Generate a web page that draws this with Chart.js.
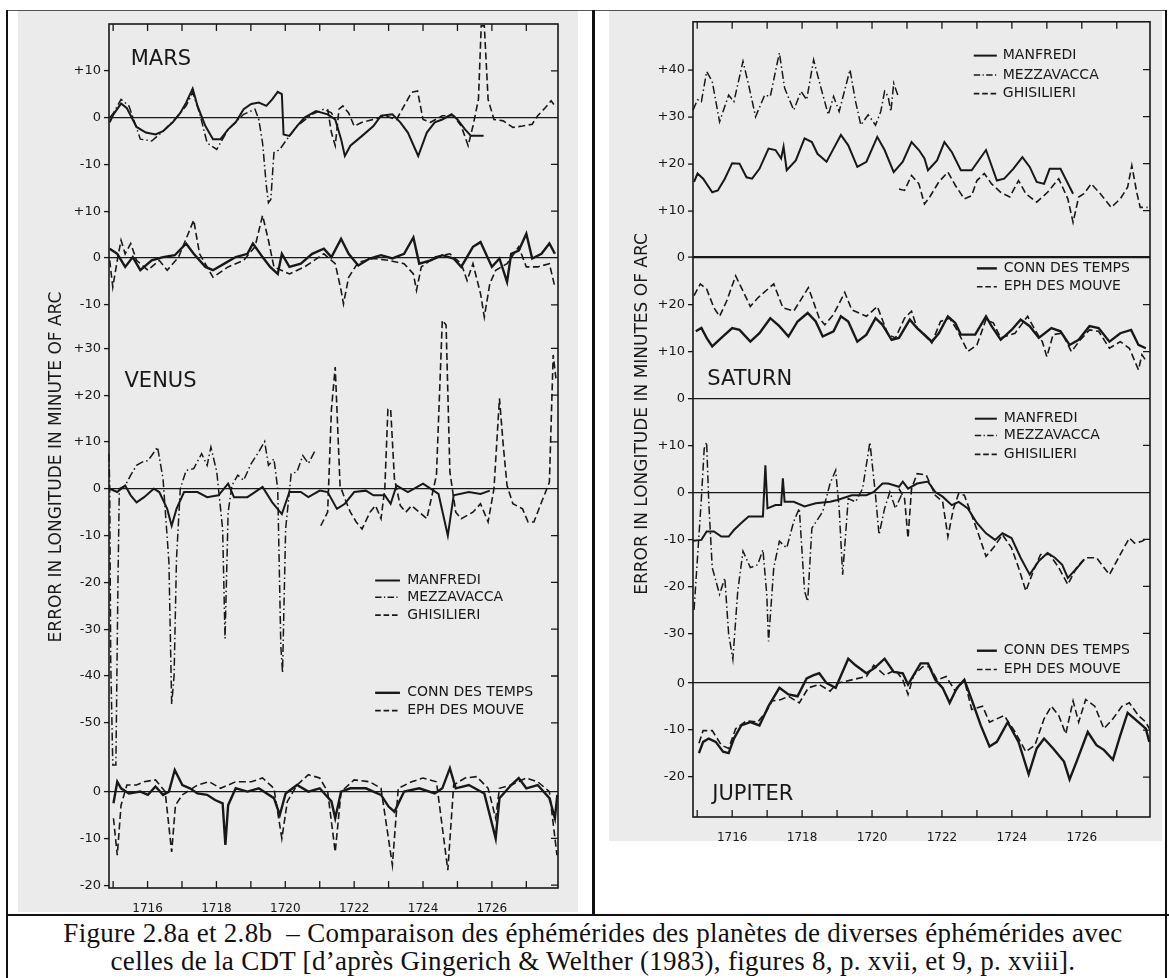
<!DOCTYPE html>
<html lang="fr">
<head>
<meta charset="UTF-8">
<title>Figure 2.8a et 2.8b</title>
<script src="https://cdn.jsdelivr.net/npm/chart.js"></script>
<style>
  body { margin: 0; background: #fff; width: 1169px; height: 978px; position: relative; overflow: hidden; }
  .scan { position: absolute; background: #ebebeb; }
  .bar { position: absolute; background: #111; }
  canvas { position: absolute; }
  .caption { position: absolute; left: 14px; width: 1158px; top: 919px; text-align: center;
             font-family: 'Liberation Serif', serif; font-size: 27px; letter-spacing: 0.3px; line-height: 28px; color: #111; }
</style>
</head>
<body>
<div class="scan" style="left:18px;top:11px;width:560px;height:901px"></div>
<div class="scan" style="left:609px;top:11px;width:553px;height:830px"></div>
<div class="bar" style="left:6px;top:10px;width:1160px;height:1px;background:#555"></div>
<div class="bar" style="left:6px;top:10px;width:2px;height:968px"></div>
<div class="bar" style="left:592px;top:10px;width:3px;height:906px"></div>
<div class="bar" style="left:1165px;top:10px;width:2px;height:968px"></div>
<div class="bar" style="left:6px;top:914px;width:1163px;height:2px"></div>
<canvas id="left" width="560" height="901" style="left:18px;top:11px"></canvas>
<canvas id="right" width="553" height="830" style="left:609px;top:11px"></canvas>
<div class="caption">Figure 2.8a et 2.8b&nbsp; – Comparaison des éphémérides des planètes de diverses éphémérides avec<br>celles de la CDT [d’après Gingerich &amp; Welther (1983), figures 8, p. xvii, et 9, p. xviii].</div>

<script>
// ---- values: [year, error in minutes of arc] ----
const yearLabels = [1716, 1718, 1720, 1722, 1724, 1726];
const yearTicks = [1715, 1716, 1717, 1718, 1719, 1720, 1721, 1722, 1723, 1724, 1725, 1726, 1727];

// Mars, upper frame
const marsManfredi = [[1714.90,-1],[1715.01,0.7],[1715.23,3],[1715.40,2],[1715.68,-2],[1715.95,-3.2],[1716.23,-3.6],[1716.45,-2.9],[1716.73,-1],[1716.95,1],[1717.12,3.2],[1717.31,6.2],[1717.45,2.5],[1717.68,-1.8],[1717.90,-4.6],[1718.12,-4.6],[1718.34,-2.5],[1718.56,-1],[1718.79,1.8],[1719.01,2.9],[1719.23,3.2],[1719.45,2.5],[1719.62,3.9],[1719.78,5.5],[1719.90,5],[1719.95,-3.6],[1720.12,-3.9],[1720.34,-1.8],[1720.56,0],[1720.89,1.4],[1721.23,0.7],[1721.45,-0.4],[1721.62,-4.6],[1721.73,-8.2],[1721.89,-6],[1722.23,-3.9],[1722.56,-1.8],[1722.78,0.4],[1723.11,0.7],[1723.34,-1],[1723.56,-3.2],[1723.86,-8.2],[1724.11,-3.2],[1724.34,-1],[1724.56,-0.4],[1724.83,0.7],[1725.00,-0.4],[1725.22,-2.5],[1725.39,-3.9],[1725.76,-3.9]];
const marsMezzavacca = [[1714.90,0],[1715.01,1],[1715.23,3.9],[1715.46,2.5],[1715.79,-4.6],[1716.12,-5],[1716.45,-2.9],[1716.79,-0.4],[1717.12,2.5],[1717.31,5.4],[1717.51,1],[1717.73,-5.4],[1718.01,-6.8],[1718.34,-2.5],[1718.79,0.7],[1719.12,1.8],[1719.23,-0.4],[1719.34,-5.4],[1719.45,-14.6],[1719.51,-18.2],[1719.58,-17.5],[1719.67,-7.5],[1719.84,-6.8],[1720.01,-5],[1720.34,-1.8],[1720.78,0.7],[1721.12,1.8],[1721.34,1],[1721.45,-0.4]];
const marsGhisilieri = [[1721.23,1.8],[1721.34,-3.2],[1721.45,-6],[1721.56,1.8],[1721.67,2.5],[1721.84,1],[1722.00,-1.8],[1722.23,-1],[1722.56,-0.4],[1722.89,0.4],[1723.23,-0.4],[1723.45,2.5],[1723.67,5.4],[1723.84,5.7],[1724.00,-0.4],[1724.22,-1],[1724.56,0.4],[1724.89,0.4],[1725.11,-1.8],[1725.31,-6],[1725.45,-1.8],[1725.61,3.9],[1725.69,19.6],[1725.78,19.6],[1725.89,3.9],[1726.06,-0.4],[1726.33,-0.7],[1726.61,-2.1],[1726.89,-1.8],[1727.17,-1.4],[1727.33,0.4],[1727.55,2.1],[1727.72,3.6],[1727.83,2.5]];
// Mars, lower frame
const marsConn = [[1714.90,2],[1715.12,0.9],[1715.35,-1.9],[1715.57,0.2],[1715.79,-2.6],[1716.12,-0.5],[1716.45,0.2],[1716.79,0.6],[1717.12,3.1],[1717.34,0.9],[1717.68,-1.9],[1717.90,-2.6],[1718.23,-1.2],[1718.56,0.2],[1718.90,0.9],[1719.06,3.1],[1719.34,0.2],[1719.56,-1.9],[1719.78,-3.4],[1719.90,0.9],[1720.12,-1.9],[1720.45,-1.2],[1720.78,0.9],[1721.12,2],[1721.34,0.2],[1721.62,4.1],[1721.84,0.9],[1722.12,-1.6],[1722.45,-0.1],[1722.78,0.6],[1723.11,-0.1],[1723.45,0.9],[1723.72,4.4],[1723.89,-1.2],[1724.22,-0.5],[1724.56,0.6],[1724.89,-0.1],[1725.11,-1.9],[1725.45,2.4],[1725.67,3.4],[1726.00,-1.9],[1726.22,-0.1],[1726.44,-5.1],[1726.56,0.9],[1726.78,1.6],[1727.00,5.2],[1727.17,-0.1],[1727.44,0.9],[1727.67,3.1],[1727.83,0.9]];
const marsEph = [[1714.90,-0.5],[1714.99,-6.2],[1715.12,-0.5],[1715.23,3.8],[1715.35,0.9],[1715.51,3.1],[1715.68,-0.5],[1716.01,-2.6],[1716.34,-0.5],[1716.57,-2.6],[1716.90,0.2],[1717.18,5.2],[1717.34,8.1],[1717.51,0.9],[1717.90,-4.1],[1718.34,-1.9],[1718.79,-0.5],[1719.12,2.4],[1719.34,9.1],[1719.51,3.8],[1719.67,-1.9],[1720.12,-3.4],[1720.56,-1.9],[1721.12,0.9],[1721.45,-1.2],[1721.62,-6.9],[1721.69,-9.8],[1721.84,-4.1],[1722.12,-0.9],[1722.56,-0.1],[1723.00,-0.5],[1723.45,-1.2],[1723.72,-3.4],[1723.81,-6.9],[1723.95,-1.9],[1724.34,0.2],[1724.78,0.9],[1725.11,-1.2],[1725.28,-4.8],[1725.45,-1.2],[1725.67,-7.6],[1725.78,-12.6],[1725.94,-5.5],[1726.11,-2.6],[1726.44,-1.2],[1726.78,2.4],[1727.00,-1.9],[1727.33,-1.9],[1727.67,-1.2],[1727.83,-6.2]];

// Venus, upper frame
const venusManfredi = [[1714.90,0],[1715.12,-0.7],[1715.35,0.7],[1715.51,-1.4],[1715.68,-2.9],[1715.90,-1.8],[1716.18,0],[1716.34,-0.7],[1716.57,-4.3],[1716.70,-7.9],[1716.84,-4.3],[1717.06,-0.7],[1717.45,-0.7],[1717.73,-1.8],[1718.06,-1.4],[1718.34,1.1],[1718.51,-1.8],[1718.90,-1.8],[1719.34,0.4],[1719.62,-2.9],[1719.90,-5.4],[1720.12,-0.7],[1720.45,-0.7],[1720.67,-1.8],[1721.00,-0.4],[1721.23,-0.7],[1721.50,-4.3],[1721.73,-3.2],[1722.00,-0.7],[1722.34,-0.4],[1722.56,-1.4],[1722.89,-1.4],[1723.06,-3.2],[1723.23,0.7],[1723.56,-0.7],[1724.00,1.1],[1724.45,-1.1],[1724.72,-10],[1724.89,-1.4],[1725.33,-0.7],[1725.67,-1.1],[1725.94,-0.4]];
const venusMezzavacca = [[1714.88,7.5],[1714.90,0.7],[1714.93,-37],[1714.99,-59],[1715.08,-59],[1715.14,-20],[1715.18,0],[1715.35,0.7],[1715.51,2.9],[1715.68,5],[1715.84,5.7],[1716.01,6],[1716.12,7.1],[1716.29,8.9],[1716.45,2.1],[1716.62,-15.7],[1716.70,-46],[1716.77,-40],[1716.84,-15],[1716.95,0],[1717.12,3.9],[1717.34,4.3],[1717.57,7.5],[1717.73,5],[1717.84,8.9],[1718.01,3.6],[1718.18,-8.6],[1718.25,-32],[1718.34,-5],[1718.45,0.7],[1718.62,2.9],[1718.79,1.8],[1719.01,5.4],[1719.23,7.9],[1719.40,10.1],[1719.51,5],[1719.67,6.4],[1719.78,0],[1719.87,-33.6],[1719.92,-39.3],[1720.01,-8.6],[1720.17,3.2],[1720.34,3.6],[1720.51,7.1],[1720.67,5.4],[1720.87,8.2]];
const venusGhisilieri = [[1721.03,-7.9],[1721.23,-5],[1721.34,17],[1721.45,26],[1721.59,0.7],[1721.73,-2.1],[1721.89,-5],[1722.06,-7.1],[1722.23,-8.6],[1722.46,-5],[1722.62,-3.6],[1722.78,-6.4],[1722.89,0],[1722.98,17],[1723.06,17],[1723.17,2.1],[1723.34,-3.6],[1723.50,-5],[1723.67,-3.6],[1723.89,-5],[1724.11,-6.4],[1724.39,2.9],[1724.56,36],[1724.67,35],[1724.78,3.6],[1724.95,-5],[1725.11,-6.4],[1725.45,-5],[1725.67,-3.2],[1725.89,-7.1],[1726.06,0],[1726.22,19.3],[1726.33,9.3],[1726.44,0.7],[1726.61,-3.2],[1726.89,-4.3],[1727.05,-7.1],[1727.22,-7.1],[1727.44,-2.9],[1727.67,1.4],[1727.78,28.6],[1727.86,23.6]];
// Venus, lower frame
const venusConn = [[1715.01,-2.5],[1715.12,2.1],[1715.23,0.7],[1715.46,-0.4],[1715.79,0],[1716.01,-0.7],[1716.23,1.1],[1716.45,-0.7],[1716.62,0],[1716.79,4.6],[1717.01,1.4],[1717.23,0.7],[1717.45,-0.4],[1717.73,-0.7],[1717.96,-1.8],[1718.18,-2.5],[1718.26,-11.4],[1718.34,-2.9],[1718.56,0.7],[1718.90,0],[1719.23,0.7],[1719.67,-1.4],[1719.84,-5],[1720.01,-0.4],[1720.34,1.4],[1720.67,0],[1721.00,0.7],[1721.34,-2.1],[1721.45,-5.7],[1721.62,0],[1721.89,0.7],[1722.34,0.7],[1722.78,-0.7],[1723.00,-3.2],[1723.17,-4.3],[1723.45,0],[1723.89,0.7],[1724.34,-0.4],[1724.56,0.7],[1724.78,5],[1724.95,0.7],[1725.33,1.4],[1725.78,-0.4],[1726.11,-10],[1726.22,-1.4],[1726.56,1.4],[1726.78,2.9],[1727.00,0.7],[1727.33,1.4],[1727.67,-1.4],[1727.83,-5.7],[1727.90,-0.7]];
const venusEph = [[1715.01,-5.7],[1715.12,-13.6],[1715.23,-2.9],[1715.40,1.4],[1715.68,1.4],[1715.90,2.1],[1716.23,2.5],[1716.51,0],[1716.70,-12.9],[1716.81,-2.9],[1717.01,-0.7],[1717.45,1.4],[1717.79,2.1],[1718.12,0.7],[1718.56,2.1],[1719.01,2.1],[1719.34,2.9],[1719.67,0.7],[1719.90,-10],[1720.06,-2.1],[1720.34,1.4],[1720.67,3.6],[1721.00,2.9],[1721.23,0],[1721.45,-12.9],[1721.62,0],[1722.00,2.5],[1722.45,2.1],[1722.78,0.7],[1723.11,-15.7],[1723.28,0.7],[1723.67,2.1],[1724.00,2.9],[1724.39,2.1],[1724.72,-16.8],[1724.89,1.4],[1725.22,2.9],[1725.56,3.2],[1725.89,0.7],[1726.11,-5.7],[1726.22,0.7],[1726.56,1.4],[1727.00,2.9],[1727.33,2.1],[1727.67,0],[1727.89,-13.6]];

// Saturn, upper frame
const saturnManfredi = [[1714.91,16.1],[1715.01,17.9],[1715.17,16.8],[1715.43,13.9],[1715.59,14.3],[1715.79,16.8],[1716.00,20.1],[1716.21,20],[1716.41,17.1],[1716.57,16.8],[1716.78,18.9],[1717.04,23.2],[1717.24,22.9],[1717.40,21.1],[1717.47,23.6],[1717.56,18.6],[1717.82,20.7],[1718.07,25.4],[1718.28,24.6],[1718.44,22.1],[1718.70,20.4],[1718.90,23.2],[1719.11,26.1],[1719.32,23.9],[1719.58,19.3],[1719.84,20.4],[1720.15,25.7],[1720.36,22.9],[1720.62,18.2],[1720.88,20.4],[1721.13,24.6],[1721.34,22.9],[1721.50,21.1],[1721.60,18.6],[1721.86,20.7],[1722.07,24.6],[1722.28,22.5],[1722.54,18.6],[1722.85,18.6],[1723.26,22.9],[1723.57,16.4],[1723.78,16.8],[1724.04,18.9],[1724.30,21.4],[1724.51,19.3],[1724.71,16.1],[1724.92,15.7],[1725.08,18.9],[1725.39,18.9],[1725.75,13.6]];
const saturnMezzavacca = [[1714.88,31.4],[1715.01,33.6],[1715.12,33.2],[1715.27,39.6],[1715.43,37.5],[1715.64,28.9],[1715.90,34.6],[1716.05,33.2],[1716.31,41.8],[1716.47,36.8],[1716.67,30],[1716.93,34.6],[1717.09,34.3],[1717.35,43.6],[1717.50,36.1],[1717.76,31.4],[1717.97,35.4],[1718.13,33.6],[1718.33,42.1],[1718.54,36.1],[1718.75,30.4],[1718.90,34.3],[1719.06,31.1],[1719.37,40],[1719.53,33.2],[1719.68,28.2],[1719.89,30.4],[1720.10,28.2],[1720.25,31.1],[1720.36,35.4],[1720.46,34.3],[1720.54,31.1],[1720.62,37.1],[1720.75,34.3]];
const saturnGhisilieri = [[1720.77,14.6],[1720.93,14.3],[1721.13,17.5],[1721.34,15.7],[1721.50,11.4],[1721.65,12.9],[1721.91,16.1],[1722.17,18.2],[1722.38,15.4],[1722.64,12.5],[1722.85,13.2],[1723.00,16.4],[1723.21,17.9],[1723.42,15.7],[1723.68,13.9],[1723.94,12.9],[1724.19,16.4],[1724.40,13.6],[1724.71,11.8],[1725.02,13.9],[1725.34,16.8],[1725.60,12.5],[1725.75,7.5],[1725.91,12.9],[1726.06,13.6],[1726.27,15.7],[1726.53,13.6],[1726.84,10.7],[1727.10,12.5],[1727.31,15],[1727.43,19.6],[1727.57,13.9],[1727.67,10.7],[1727.88,10.7]];
// Saturn, lower frame
const saturnConn = [[1714.96,14.3],[1715.12,15],[1715.27,12.9],[1715.43,11.1],[1715.69,12.9],[1716.00,15],[1716.21,14.6],[1716.52,12.1],[1716.78,13.9],[1717.09,17.1],[1717.35,15.4],[1717.61,13.2],[1717.87,16.4],[1718.16,18.2],[1718.39,16.4],[1718.59,13.2],[1718.90,14.3],[1719.11,17.5],[1719.32,16.4],[1719.58,12.1],[1719.84,13.6],[1720.10,17.1],[1720.30,15.7],[1720.56,12.5],[1720.77,12.9],[1721.08,16.8],[1721.29,15],[1721.55,13.2],[1721.71,12.1],[1721.91,13.9],[1722.17,17.5],[1722.38,16.1],[1722.54,13.6],[1722.95,13.6],[1723.26,17.5],[1723.42,15.4],[1723.68,12.5],[1723.99,14.6],[1724.25,16.8],[1724.51,15.4],[1724.77,12.9],[1725.13,15],[1725.39,14.3],[1725.65,11.4],[1725.91,12.5],[1726.22,15.4],[1726.48,15],[1726.79,12.1],[1727.10,13.9],[1727.41,14.6],[1727.62,11.4],[1727.83,10.7]];
const saturnEph = [[1714.91,21.9],[1715.09,24.4],[1715.27,23.3],[1715.48,19.3],[1715.64,17.5],[1715.84,20.7],[1716.10,26.1],[1716.52,19.6],[1716.73,21.4],[1717.19,24.4],[1717.45,19.3],[1717.76,18.6],[1718.18,23.6],[1718.49,17.1],[1718.65,15.7],[1718.90,17.9],[1719.22,22.6],[1719.42,18.9],[1719.84,17.5],[1720.15,19.6],[1720.46,13.6],[1720.67,12.9],[1720.93,17.1],[1721.13,18.6],[1721.29,15],[1721.50,13.6],[1721.71,11.8],[1721.96,16.4],[1722.22,17.1],[1722.43,14.6],[1722.74,10],[1723.00,11.4],[1723.26,16.8],[1723.47,16.1],[1723.68,12.9],[1724.09,13.9],[1724.45,17.5],[1724.66,14.6],[1724.87,12.1],[1725.00,8.9],[1725.18,13.6],[1725.44,13.9],[1725.70,10],[1725.96,12.5],[1726.22,14.6],[1726.48,14.3],[1726.79,10.7],[1727.10,12.1],[1727.36,10.7],[1727.62,6.1],[1727.72,9.3],[1727.85,7.9]];

// Jupiter, upper frame
const jupiterManfredi = [[1714.88,-10.3],[1715.12,-10.1],[1715.27,-8.3],[1715.48,-8.3],[1715.69,-9.4],[1715.90,-9.4],[1716.05,-8],[1716.26,-6.5],[1716.47,-5.1],[1716.73,-5.1],[1716.88,-5.1],[1716.95,5.8],[1717.01,-3.4],[1717.24,-2.7],[1717.40,-2.7],[1717.45,3],[1717.50,-2],[1717.76,-2],[1718.07,-3],[1718.39,-2.3],[1718.80,-2],[1719.01,-1.6],[1719.42,-0.6],[1719.84,-0.6],[1720.05,0.1],[1720.30,1.9],[1720.46,1.9],[1720.77,1.2],[1720.88,2.3],[1721.03,0.8],[1721.29,1.9],[1721.60,2.3],[1721.81,0.1],[1722.02,-0.9],[1722.28,-2.7],[1722.48,-2],[1722.74,-3.4],[1723.00,-6.5],[1723.26,-8.7],[1723.52,-10.1],[1723.73,-8.7],[1723.99,-9.7],[1724.25,-13.9],[1724.51,-17.5],[1724.77,-14.6],[1725.02,-12.9],[1725.23,-13.9],[1725.44,-15.4],[1725.60,-18.2],[1725.85,-16.2],[1726.06,-14.3]];
const jupiterMezzavacca = [[1714.91,-25],[1715.12,-1.3],[1715.20,9.3],[1715.27,10.7],[1715.33,-2],[1715.43,-16],[1715.64,-21.7],[1715.79,-18.2],[1715.90,-30.2],[1716.02,-35.5],[1716.16,-21],[1716.31,-12.5],[1716.52,-16],[1716.73,-15.4],[1716.88,-12.2],[1716.99,-21.7],[1717.04,-31.7],[1717.19,-16],[1717.35,-10.4],[1717.56,-11.8],[1717.76,-6.2],[1717.92,-3.4],[1718.07,-21],[1718.16,-23.2],[1718.28,-7.6],[1718.59,-4.1],[1718.80,1.9],[1718.96,4.7],[1719.06,-3.4],[1719.16,-17.5],[1719.32,-1.3],[1719.53,-2],[1719.73,0.8],[1719.94,10.7],[1720.10,-0.6],[1720.20,-9],[1720.36,-3.4],[1720.51,0.1],[1720.67,-3.4],[1720.88,0.1]];
const jupiterGhisilieri = [[1720.77,0.8],[1720.93,-1.3],[1721.03,-9.7],[1721.13,0.8],[1721.29,4],[1721.55,3.7],[1721.81,-0.6],[1722.02,-2],[1722.17,-9.4],[1722.33,-3.4],[1722.48,-0.2],[1722.64,-0.6],[1722.85,-4.8],[1723.05,-9],[1723.26,-13.6],[1723.47,-11.8],[1723.73,-9],[1723.99,-11.8],[1724.19,-16],[1724.40,-21],[1724.61,-16.8],[1724.82,-13.2],[1725.08,-13.2],[1725.34,-16],[1725.60,-19.6],[1725.85,-16],[1726.11,-13.9],[1726.42,-13.9],[1726.79,-17.5],[1727.10,-13.2],[1727.36,-9.7],[1727.51,-10.8],[1727.72,-10.4],[1727.88,-9.7]];
// Jupiter, lower frame
const jupiterConn = [[1715.05,-14.9],[1715.17,-12.5],[1715.33,-11.8],[1715.53,-12.5],[1715.74,-14.6],[1715.90,-14.9],[1716.05,-11.8],[1716.26,-9],[1716.52,-8.3],[1716.78,-9],[1717.04,-4.9],[1717.35,-1],[1717.61,-2.4],[1717.87,-2.8],[1718.13,1],[1718.33,1.7],[1718.49,2.1],[1718.70,0],[1718.96,-1],[1719.32,5.2],[1719.53,3.8],[1719.84,2.1],[1720.05,3.1],[1720.36,5.2],[1720.62,2.4],[1720.88,2.1],[1721.03,-0.3],[1721.19,1.7],[1721.39,4.2],[1721.60,4.2],[1721.81,0.7],[1722.02,-1],[1722.22,-4.2],[1722.43,-1],[1722.64,0.7],[1722.85,-3.5],[1723.11,-9],[1723.36,-13.5],[1723.57,-12.5],[1723.88,-8.3],[1724.19,-12.5],[1724.48,-19.4],[1724.71,-13.9],[1724.92,-11.8],[1725.18,-13.9],[1725.49,-16.7],[1725.65,-20.5],[1725.85,-16.7],[1726.17,-10.4],[1726.42,-13.2],[1726.63,-14.2],[1726.89,-16.3],[1727.10,-11.1],[1727.31,-6.3],[1727.62,-8.3],[1727.83,-9.7],[1727.93,-12.5]];
const jupiterEph = [[1715.05,-12.8],[1715.17,-10.1],[1715.43,-10.1],[1715.69,-13.2],[1715.90,-13.9],[1716.10,-9.7],[1716.41,-8],[1716.73,-8.3],[1716.99,-5.9],[1717.14,-3.8],[1717.40,-3.5],[1717.61,-2.8],[1717.92,-4.2],[1718.18,-1],[1718.49,-0.3],[1718.80,-1.7],[1719.01,0],[1719.42,0.7],[1719.84,1.4],[1720.05,3.8],[1720.36,1.7],[1720.67,2.8],[1720.88,0.7],[1721.03,-2.4],[1721.19,1.7],[1721.45,3.5],[1721.65,3.5],[1721.86,0.7],[1722.12,1.4],[1722.38,-1.7],[1722.64,0.7],[1722.85,-5.6],[1723.16,-4.9],[1723.36,-8.3],[1723.78,-6.9],[1724.09,-10.4],[1724.40,-14.6],[1724.66,-13.2],[1724.92,-7.6],[1725.13,-4.9],[1725.34,-6.9],[1725.54,-10.8],[1725.75,-3.8],[1725.91,-8.3],[1726.11,-3.5],[1726.37,-4.9],[1726.63,-9.7],[1726.89,-7.6],[1727.15,-4.9],[1727.36,-4.2],[1727.62,-6.9],[1727.83,-8.3],[1727.93,-9.7]];

// ---- styles ----
const INK = '#181818';
const FONT = "'DejaVu Sans', sans-serif";
const MANFREDI = { w: 2.0, dash: [] };
const MEZZA = { w: 1.5, dash: [8, 3, 1.5, 3] };
const GHIS = { w: 1.6, dash: [7, 3.5] };
const CONN = { w: 2.4, dash: [] };
const EPH = { w: 1.6, dash: [7, 3.5] };

Chart.defaults.font.family = FONT;
Chart.defaults.color = INK;

function line(data, axis, st) {
  return {
    data: data.map(([x, y]) => ({ x, y })), yAxisID: axis,
    borderColor: INK, borderWidth: st.w, borderDash: st.dash,
    pointRadius: 0, tension: 0, fill: false, clip: false
  };
}

// one frame of the stacked figure: its own y scale, zero line drawn across
function frame(min, max, ticks, order, zeroWidth) {
  return {
    type: 'linear', position: 'left', stack: 'frames', stackWeight: max - min, weight: order,
    min, max,
    afterBuildTicks: s => { s.ticks = ticks.map(v => ({ value: v })); },
    afterFit: s => { s.width = 50; },
    grid: {
      color: c => (c.tick && c.tick.value === 0) ? INK : 'rgba(0,0,0,0)',
      lineWidth: zeroWidth, tickColor: INK, tickWidth: 1.3, tickLength: 5
    },
    border: { display: false },
    ticks: { padding: 3, font: { size: 13 }, callback: v => v > 0 ? '+' + v : String(v) }
  };
}

function yearAxis(min, max, h) {
  return {
    type: 'linear', min, max,
    afterBuildTicks: s => { s.ticks = yearLabels.map(v => ({ value: v })); },
    afterFit: s => { s.height = h; },
    grid: { display: false }, border: { display: false },
    ticks: { padding: 6, font: { size: 12 }, maxRotation: 0, autoSkip: false, callback: v => String(v) }
  };
}

// frame, inward ticks, rotated axis title, planet names and keys
const decor = {
  id: 'decor',
  afterDraw(chart, args, o) {
    const { ctx, chartArea: a, scales } = chart;
    ctx.save();
    ctx.strokeStyle = INK; ctx.fillStyle = INK;
    ctx.lineWidth = 1.6;
    ctx.strokeRect(a.left, a.top, a.right - a.left, a.bottom - a.top);
    ctx.lineWidth = 1.3;
    ctx.beginPath();
    yearTicks.forEach(yr => {
      const px = scales.x.getPixelForValue(yr);
      ctx.moveTo(px, a.top); ctx.lineTo(px, a.top + 7);
      ctx.moveTo(px, a.bottom); ctx.lineTo(px, a.bottom - 7);
    });
    o.frames.forEach(id => {
      scales[id].ticks.forEach(t => {
        if (t.value === 0) return;
        const py = scales[id].getPixelForValue(t.value);
        ctx.moveTo(a.right - 7, py); ctx.lineTo(a.right, py);
      });
    });
    ctx.stroke();

    ctx.textBaseline = 'middle';
    ctx.save();
    ctx.translate(o.titleX, o.titleY); ctx.rotate(-Math.PI / 2);
    ctx.font = '17px ' + FONT; ctx.textAlign = 'center';
    ctx.fillText(o.title, 0, 0);
    ctx.restore();

    ctx.textAlign = 'left';
    ctx.font = '21px ' + FONT;
    o.names.forEach(n => {
      ctx.fillText(n.text, scales.x.getPixelForValue(n.x), scales[n.axis].getPixelForValue(n.y));
    });

    ctx.font = '14px ' + FONT;
    o.keys.forEach(k => {
      const x0 = scales.x.getPixelForValue(k.x0), x1 = scales.x.getPixelForValue(k.x1);
      const xt = scales.x.getPixelForValue(k.xt);
      k.rows.forEach(([text, st, v]) => {
        const py = scales[k.axis].getPixelForValue(v);
        ctx.lineWidth = st.w; ctx.setLineDash(st.dash.map(d => d * 0.8));
        ctx.beginPath(); ctx.moveTo(x0, py); ctx.lineTo(x1, py); ctx.stroke();
        ctx.setLineDash([]);
        ctx.fillText(text, xt, py);
      });
    });
    ctx.restore();
  }
};

const common = {
  responsive: false, animation: false, devicePixelRatio: 1,
  plugins: { legend: { display: false }, tooltip: { enabled: false } }
};

new Chart(document.getElementById('left'), {
  type: 'line',
  data: {
    datasets: [
      line(marsManfredi, 'marsA', MANFREDI), line(marsMezzavacca, 'marsA', MEZZA), line(marsGhisilieri, 'marsA', GHIS),
      line(marsConn, 'marsB', CONN), line(marsEph, 'marsB', EPH),
      line(venusManfredi, 'venusA', MANFREDI), line(venusMezzavacca, 'venusA', MEZZA), line(venusGhisilieri, 'venusA', GHIS),
      line(venusConn, 'venusB', CONN), line(venusEph, 'venusB', EPH)
    ]
  },
  options: {
    ...common,
    layout: { padding: { left: 41, top: 13, right: 20, bottom: 0 } },
    scales: {
      x: yearAxis(1714.88, 1727.92, 24),
      marsA: frame(-15, 20, [-10, 0, 10], 4, 1.2),
      marsB: frame(-15, 15, [-10, 0, 10], 3, 1.2),
      venusA: frame(-59.6, 34.3, [-50, -40, -30, -20, -10, 0, 10, 20, 30], 2, 1.2),
      venusB: frame(-20.6, 5.1, [-20, -10, 0], 1, 1.2)
    },
    plugins: {
      ...common.plugins,
      decor: {
        title: 'ERROR IN LONGITUDE IN MINUTE OF ARC', titleX: 39, titleY: 456,
        frames: ['marsA', 'marsB', 'venusA', 'venusB'],
        names: [{ text: 'MARS', axis: 'marsA', x: 1715.51, y: 12.3 }, { text: 'VENUS', axis: 'venusA', x: 1715.33, y: 23 }],
        keys: [{ axis: 'venusA', x0: 1722.61, x1: 1723.33, xt: 1723.54,
                 rows: [['MANFREDI', MANFREDI, -19.6], ['MEZZAVACCA', MEZZA, -23.2], ['GHISILIERI', GHIS, -27],
                        ['CONN DES TEMPS', CONN, -43.6], ['EPH DES MOUVE', EPH, -47.4]] }]
      }
    }
  },
  plugins: [decor]
});

new Chart(document.getElementById('right'), {
  type: 'line',
  data: {
    datasets: [
      line(saturnManfredi, 'satA', MANFREDI), line(saturnMezzavacca, 'satA', MEZZA), line(saturnGhisilieri, 'satA', GHIS),
      line(saturnConn, 'satB', CONN), line(saturnEph, 'satB', EPH),
      line(jupiterManfredi, 'jupA', MANFREDI), line(jupiterMezzavacca, 'jupA', MEZZA), line(jupiterGhisilieri, 'jupA', GHIS),
      line(jupiterConn, 'jupB', CONN), line(jupiterEph, 'jupB', EPH)
    ]
  },
  options: {
    ...common,
    layout: { padding: { left: 34, top: 9, right: 12, bottom: 0 } },
    scales: {
      x: yearAxis(1714.88, 1727.95, 24),
      satA: frame(0, 50.2, [0, 10, 20, 30, 40], 4, 2.2),
      satB: frame(0, 30, [0, 10, 20], 3, 1.3),
      jupA: frame(-35.5, 20, [-30, -20, -10, 0, 10], 2, 1.3),
      jupB: frame(-28.5, 5.1, [-20, -10, 0], 1, 1.3)
    },
    plugins: {
      ...common.plugins,
      decor: {
        title: 'ERROR IN LONGITUDE IN MINUTES OF ARC', titleX: 34, titleY: 403,
        frames: ['satA', 'satB', 'jupA', 'jupB'],
        names: [{ text: 'SATURN', axis: 'satB', x: 1715.29, y: 4 }, { text: 'JUPITER', axis: 'jupB', x: 1715.43, y: -23.8 }],
        keys: [
          { axis: 'satA', x0: 1722.91, x1: 1723.57, xt: 1723.74,
            rows: [['MANFREDI', MANFREDI, 43], ['MEZZAVACCA', MEZZA, 38.9], ['GHISILIERI', GHIS, 34.9]] },
          { axis: 'satB', x0: 1723.0, x1: 1723.57, xt: 1723.77,
            rows: [['CONN DES TEMPS', CONN, 27.7], ['EPH DES MOUVE', EPH, 23.8]] },
          { axis: 'jupA', x0: 1722.94, x1: 1723.57, xt: 1723.77,
            rows: [['MANFREDI', MANFREDI, 15.7], ['MEZZAVACCA', MEZZA, 12.1], ['GHISILIERI', GHIS, 8.1]] },
          { axis: 'jupB', x0: 1723.0, x1: 1723.57, xt: 1723.77,
            rows: [['CONN DES TEMPS', CONN, 6.9], ['EPH DES MOUVE', EPH, 2.9]] }
        ]
      }
    }
  },
  plugins: [decor]
});
</script>
</body>
</html>
